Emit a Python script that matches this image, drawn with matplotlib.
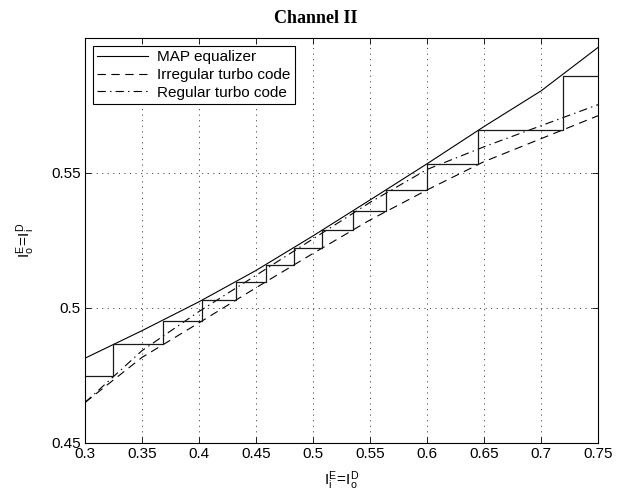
import matplotlib
matplotlib.use("Agg")
import matplotlib.pyplot as plt

# EXIT chart values
x_grid = [0.30, 0.35, 0.40, 0.45, 0.50, 0.55, 0.60, 0.65, 0.70, 0.75]
map_equalizer = [0.4814, 0.4916, 0.5023, 0.5139, 0.5267, 0.5400, 0.5534, 0.5672, 0.5804, 0.5965]
irregular_code = [0.4650, 0.4817, 0.4945, 0.5075, 0.5202, 0.5326, 0.5437, 0.5542, 0.5627, 0.5712]
regular_code = [0.4650, 0.4842, 0.4987, 0.5121, 0.5256, 0.5391, 0.5513, 0.5597, 0.5675, 0.5753]

# decoding trajectory (staircase corners)
stair_x = [0.3, 0.3243, 0.3681, 0.4029, 0.4322, 0.4585, 0.4833, 0.5082,
           0.5350, 0.5640, 0.5997, 0.6450, 0.7190, 0.75]
stair_y = [0.4748, 0.4866, 0.4952, 0.5030, 0.5097, 0.5159, 0.5223, 0.5289,
           0.5360, 0.5437, 0.5533, 0.5659, 0.5860, 0.5860]

x_ticks = [0.3, 0.35, 0.4, 0.45, 0.5, 0.55, 0.6, 0.65, 0.7, 0.75]
x_ticklabels = ["0.3", "0.35", "0.4", "0.45", "0.5", "0.55", "0.6", "0.65", "0.7", "0.75"]
y_ticks = [0.45, 0.5, 0.55]
y_ticklabels = ["0.45", "0.5", "0.55"]

plt.rcParams.update({
    "font.family": "Liberation Sans",
    "font.size": 11,
    "mathtext.default": "regular",
    "lines.scale_dashes": False,
    "xtick.direction": "in",
    "ytick.direction": "in",
    "xtick.top": True,
    "ytick.right": True,
})

fig = plt.figure(figsize=(6.22, 4.95), dpi=100)
ax = fig.add_axes([0.1367, 0.1051, 0.8248, 0.8182])

ax.plot(x_grid, map_equalizer, color="black", lw=0.8, label="MAP equalizer")
ax.plot(x_grid, irregular_code, color="black", lw=0.8, dashes=(6, 4), label="Irregular turbo code")
ax.plot(x_grid, regular_code, color="black", lw=0.8, dashes=(6, 3, 1, 3), label="Regular turbo code")
ax.step(stair_x, stair_y, where="post", color="#1a1a1a", lw=0.9)

ax.set_xlim(0.3, 0.75)
ax.set_ylim(0.45, 0.6)
ax.set_xticks(x_ticks)
ax.set_xticklabels(x_ticklabels)
ax.set_yticks(y_ticks)
ax.set_yticklabels(y_ticklabels)
ax.tick_params(length=4, width=0.6, labelsize=11, pad=3)
for s in ax.spines.values():
    s.set_linewidth(0.8)
ax.grid(True, color="black", lw=0.5, dashes=(0.8, 3.2))

ax.set_xlabel(r"$I_i^E\!=\!I_o^D$", fontsize=11, labelpad=6)
ax.set_ylabel(r"$I_o^E\!=\!I_i^D$", fontsize=11, labelpad=10)

leg = ax.legend(loc="upper left", fontsize=11, frameon=True, fancybox=False,
                handlelength=3.3, handletextpad=0.6, borderpad=0.3,
                labelspacing=0.25, borderaxespad=0.5)
leg.get_frame().set_edgecolor("black")
leg.get_frame().set_linewidth(0.8)
leg.get_frame().set_alpha(1)

fig.text(0.508, 0.962, "Channel II", family="Liberation Serif", weight="bold",
         fontsize=13, ha="center", va="center")

fig.savefig("out.png", dpi=100)
